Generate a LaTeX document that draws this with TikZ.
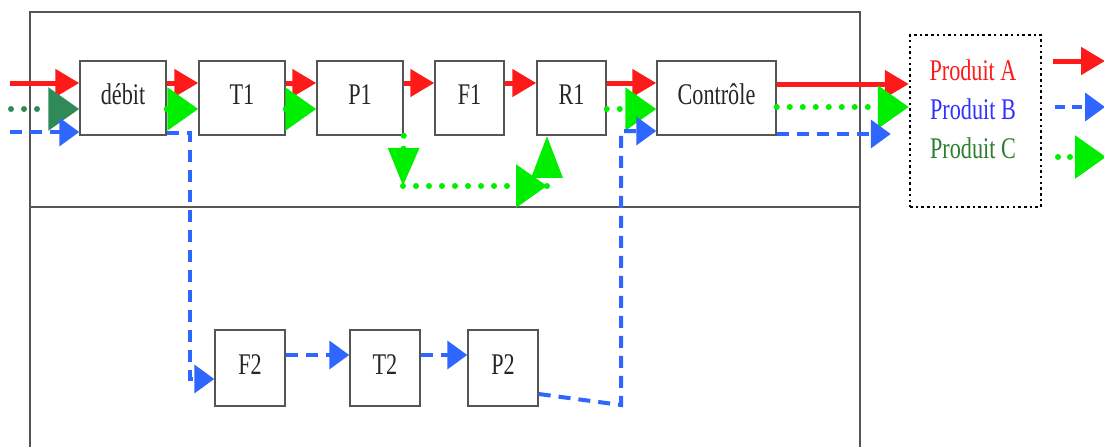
\documentclass[tikz,border=0pt]{standalone}
\usepackage{fontspec}
\setmainfont{Liberation Serif}[FakeStretch=0.74]
\usetikzlibrary{arrows.meta}
\definecolor{ared}{HTML}{FF1A1A}
\definecolor{bblue}{HTML}{2F66FF}
\definecolor{cgreen}{HTML}{00EE00}
\definecolor{dgreen}{HTML}{2E8B57}
\definecolor{tblue}{HTML}{3030FF}
\definecolor{tgreen}{HTML}{2E7D32}
\definecolor{framec}{HTML}{555555}
\tikzset{
  box/.style={draw=framec, line width=1.5pt, fill=white, inner sep=0pt,
    minimum height=74pt, text height=21pt, text depth=8pt,
    font=\fontsize{30}{32}\selectfont, text=black!85},
  legtext/.style={anchor=base, inner sep=0pt, font=\fontsize{30}{32}\selectfont},
  frameline/.style={draw=framec, line width=1.5pt},
  flowA/.style={draw=ared, line width=5pt, -{Triangle[length=24pt,width=27pt]}},
  flowB/.style={draw=bblue, line width=4pt, dash pattern=on 12pt off 8pt, -{Triangle[length=20pt,width=28pt]}},
  flowC/.style={draw=cgreen, line width=6pt, line cap=round, dash pattern=on 0pt off 13pt, -{Triangle[length=31pt,width=42pt]}}
}
\begin{document}
\begin{tikzpicture}[x=1pt,y=-1pt]
\useasboundingbox[fill=white] (0,0) rectangle (1104,447);
% frame
\draw[frameline] (30,447) -- (30,12) -- (860,12) -- (860,447);
\draw[frameline] (30,207) -- (860,207);
% boxes
\node[box, minimum width=86pt] (debit) at (123,98) {débit};
\node[box, minimum width=86pt] (T1) at (242,98) {T1};
\node[box, minimum width=86pt] (P1) at (360,98) {P1};
\node[box, minimum width=69pt] (F1) at (469.5,98) {F1};
\node[box, minimum width=69pt] (R1) at (571.5,98) {R1};
\node[box, minimum width=119pt] (ctrl) at (716.5,98) {Contrôle};
\node[box, minimum width=70pt, minimum height=76pt] (F2) at (250,368) {F2};
\node[box, minimum width=70pt, minimum height=76pt] (T2) at (385,368) {T2};
\node[box, minimum width=70pt, minimum height=76pt] (P2) at (503,368) {P2};
% legend
\node[draw=black, line width=2.5pt, dash pattern=on 2.5pt off 3.2pt, minimum width=131pt, minimum height=172pt, inner sep=0pt] (legend) at (975.5,121) {};
\node[legtext, text=ared] (pa) at (973,80) {Produit A};
\node[legtext, text=tblue] (pb) at (973,119) {Produit B};
\node[legtext, text=tgreen] (pc) at (973,158) {Produit C};
% incoming flows
\coordinate (inA) at (10,83);
\coordinate (inC) at (11,109);
\coordinate (inB) at (10,132);
\draw[flowA] (inA) -- (inA -| debit.west);
\draw[flowC, draw=dgreen] (inC) -- (inC -| debit.west);
\draw[flowB] (inB) -- (inB -| debit.west);
% product A (red)
\draw[flowA] ([yshift=15pt]debit.east) -- ([yshift=15pt]T1.west);
\draw[flowA] ([yshift=15pt]T1.east) -- ([yshift=15pt]P1.west);
\draw[flowA] ([yshift=15pt]P1.east) -- ([yshift=15pt]F1.west);
\draw[flowA] ([yshift=15pt]F1.east) -- ([yshift=15pt]R1.west);
\draw[flowA] ([yshift=15pt]R1.east) -- ([yshift=15pt]ctrl.west);
\coordinate (ao) at ([yshift=14pt]ctrl.east);
\draw[flowA] (ao) -- (ao -| legend.west);
% product C (green)
\draw[flowC] ([yshift=-11pt]debit.east) -- ([yshift=-11pt]T1.west);
\draw[flowC] ([yshift=-11pt]T1.east) -- ([yshift=-11pt]P1.west);
\coordinate (c1) at (403,186);
\coordinate (c2) at (547,186);
\draw[flowC, -{Triangle[length=38pt,width=30pt]}] (P1.south east) -- (c1);
\draw[flowC] (c1) -- (c2);
\draw[flowC, -{Triangle[length=42pt,width=30pt]}] (c2) -- (c2 |- R1.south);
\draw[flowC] ([yshift=-11pt]R1.east) -- ([yshift=-11pt]ctrl.west);
\coordinate (co) at ([yshift=-9pt]ctrl.east);
\draw[flowC] (co) -- (co -| legend.west);
% product B (blue)
\coordinate (b1) at (190,379);
\draw[flowB] ([yshift=-35pt]debit.east) -| (b1) -- (b1 -| F2.west);
\draw[flowB] ([yshift=13pt]F2.east) -- ([yshift=13pt]T2.west);
\draw[flowB] ([yshift=13pt]T2.east) -- ([yshift=13pt]P2.west);
\coordinate (b2) at (621,405);
\coordinate (bc) at ([yshift=-33pt]ctrl.west);
\draw[flowB] ([yshift=-26pt]P2.east) -- (b2) -- (b2 |- bc) -- (bc);
\coordinate (bo) at ([yshift=-36pt]ctrl.east);
\draw[flowB] (bo) -- ([xshift=-18pt]bo -| legend.west);
% legend arrows
\coordinate (la1) at (1053,61);  \coordinate (la2) at (1105,61);
\coordinate (lb1) at (1055,107); \coordinate (lb2) at (1105,107);
\coordinate (lc1) at (1058,157); \coordinate (lc2) at (1106,157);
\draw[flowA] (la1) -- (la2);
\draw[flowB, dash pattern=on 10pt off 7pt] (lb1) -- (lb2);
\draw[flowC, dash pattern=on 0pt off 12pt] (lc1) -- (lc2);
\end{tikzpicture}
\end{document}
